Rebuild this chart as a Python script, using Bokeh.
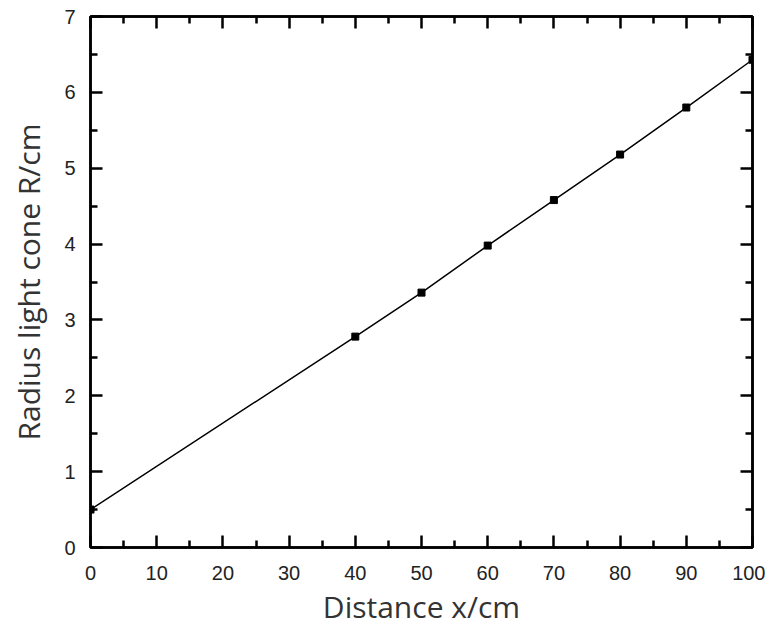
from bokeh.plotting import figure
from bokeh.models import LinearAxis, Range1d, FixedTicker
from bokeh.embed import file_html
from bokeh.resources import INLINE

distance = [0, 40, 50, 60, 70, 80, 90, 100]
radius = [0.50, 2.78, 3.36, 3.98, 4.58, 5.18, 5.80, 6.43]
x_ticks = [0, 10, 20, 30, 40, 50, 60, 70, 80, 90, 100]
y_ticks = [0, 1, 2, 3, 4, 5, 6, 7]
x_minor = [5, 15, 25, 35, 45, 55, 65, 75, 85, 95]
y_minor = [0.5, 1.5, 2.5, 3.5, 4.5, 5.5, 6.5]

p = figure(width=765, height=629, output_backend="svg", toolbar_location=None,
           x_range=Range1d(0, 100), y_range=Range1d(0, 7),
           min_border_left=90, min_border_right=13, min_border_top=16, min_border_bottom=82,
           x_axis_label="Distance x/cm", y_axis_label="Radius light cone R/cm")
p.grid.visible = False
p.outline_line_color = "black"
p.outline_line_width = 2.5
p.background_fill_color = "white"
p.border_fill_color = "white"

p.line(distance, radius, line_color="black", line_width=1.5)
p.scatter(distance, radius, marker="square", size=7, fill_color="black", line_color="black")

def style(ax):
    ax.axis_line_color = "black"
    ax.axis_line_width = 2.5
    ax.major_tick_in = 12
    ax.major_tick_out = 0
    ax.minor_tick_in = 7
    ax.minor_tick_out = 0
    ax.major_tick_line_width = 2.5
    ax.minor_tick_line_width = 2.5
    ax.major_tick_line_color = "black"
    ax.minor_tick_line_color = "black"
    ax.major_label_text_font = "Liberation Sans"
    ax.major_label_text_font_size = "20px"
    ax.major_label_text_color = "#222222"
    ax.axis_label_text_font = "Open Sans"
    ax.axis_label_text_font_size = "30px"
    ax.axis_label_text_font_style = "normal"
    ax.axis_label_text_color = "#333333"

xa = p.xaxis[0]
ya = p.yaxis[0]
xa.ticker = FixedTicker(ticks=x_ticks, minor_ticks=x_minor)
ya.ticker = FixedTicker(ticks=y_ticks, minor_ticks=y_minor)
style(xa)
style(ya)
xa.major_label_standoff = 18
ya.major_label_standoff = 15
xa.axis_label_standoff = 3
ya.axis_label_standoff = 12

top = LinearAxis(ticker=FixedTicker(ticks=x_ticks, minor_ticks=x_minor))
right = LinearAxis(ticker=FixedTicker(ticks=y_ticks, minor_ticks=y_minor))
style(top)
style(right)
top.major_label_overrides = {t: "" for t in x_ticks}
right.major_label_overrides = {t: "" for t in y_ticks}
top.major_label_standoff = 0
right.major_label_standoff = 0
p.add_layout(top, "above")
p.add_layout(right, "right")

open("out.html", "w").write(file_html(p, INLINE))
